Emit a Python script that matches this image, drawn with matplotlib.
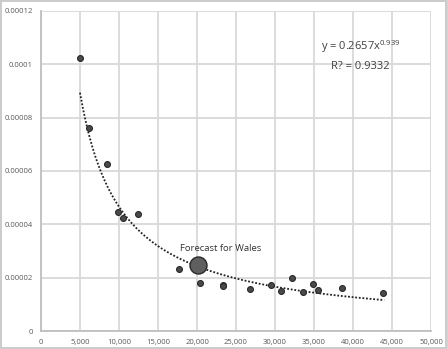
import numpy as np
import matplotlib
matplotlib.use('Agg')
import matplotlib.pyplot as plt

plt.rcParams['font.family'] = ['Open Sans', 'DejaVu Sans']

# observed points
pop = [5000, 6200, 8500, 9900, 10550, 12450, 17700, 20350, 23300, 23300,
       26800, 29550, 30750, 32150, 33550, 34900, 35450, 38600, 43900]
rate = [1.025e-4, 7.6e-5, 6.25e-5, 4.48e-5, 4.23e-5, 4.39e-5, 2.31e-5, 1.79e-5, 1.73e-5, 1.69e-5,
        1.56e-5, 1.71e-5, 1.51e-5, 2.0e-5, 1.45e-5, 1.75e-5, 1.54e-5, 1.6e-5, 1.43e-5]

# forecast point
wales_x = 20150
wales_y = 2.49e-5

# power trendline y = a*x^b
a = 0.2657
b = -0.939
xt = np.linspace(5000, 44000, 200)
yt = a * xt**b

xticks = [0, 5000, 10000, 15000, 20000, 25000, 30000, 35000, 40000, 45000, 50000]
yticks = [0, 0.00002, 0.00004, 0.00006, 0.00008, 0.0001, 0.00012]
ylabels = ['0', '0.00002', '0.00004', '0.00006', '0.00008', '0.0001', '0.00012']

fig = plt.figure(figsize=(4.47, 3.49), dpi=100)
ax = fig.add_axes([41/447, 18/349, 390/447, 320/349])

ax.plot(xt, yt, color='#222222', linestyle=(0, (1, 1)), lw=1.3, zorder=2)
ax.scatter(pop, rate, s=18, color='#4a4a4a', edgecolor='#2a2a2a', lw=0.8, zorder=3)
ax.scatter([wales_x], [wales_y], s=150, color='#5f5f5f', edgecolor='#2a2a2a', lw=1.0, zorder=4)

ax.text(wales_x - 2300, wales_y + 0.0000045, 'Forecast for Wales', fontsize=6.8,
        color='#333333', ha='left', va='bottom')
ax.text(41000, 0.0001065, 'y = 0.2657x$\\mathregular{^{0.939}}$', fontsize=8,
        color='#404040', ha='center', va='center')
ax.text(41000, 0.0000993, 'R? = 0.9332', fontsize=8, color='#404040', ha='center', va='center')

ax.set_xlim(0, 50000)
ax.set_ylim(0, 0.00012)
ax.set_xticks(xticks)
ax.set_xticklabels(['0'] + ['{:,}'.format(v) for v in xticks[1:]])
ax.set_yticks(yticks)
ax.set_yticklabels(ylabels)
ax.tick_params(labelsize=5.5, colors='#595959', length=0, pad=6)
ax.grid(True, color='#d9d9d9', lw=1.3)
ax.set_axisbelow(True)
for s in ['top', 'right']:
    ax.spines[s].set_visible(False)
for s in ['left', 'bottom']:
    ax.spines[s].set_color('#bfbfbf')
    ax.spines[s].set_linewidth(1.3)

fig.patch.set_edgecolor('#cccccc')
fig.patch.set_linewidth(1.5)

fig.savefig('out.png', dpi=100, edgecolor=fig.get_edgecolor())
